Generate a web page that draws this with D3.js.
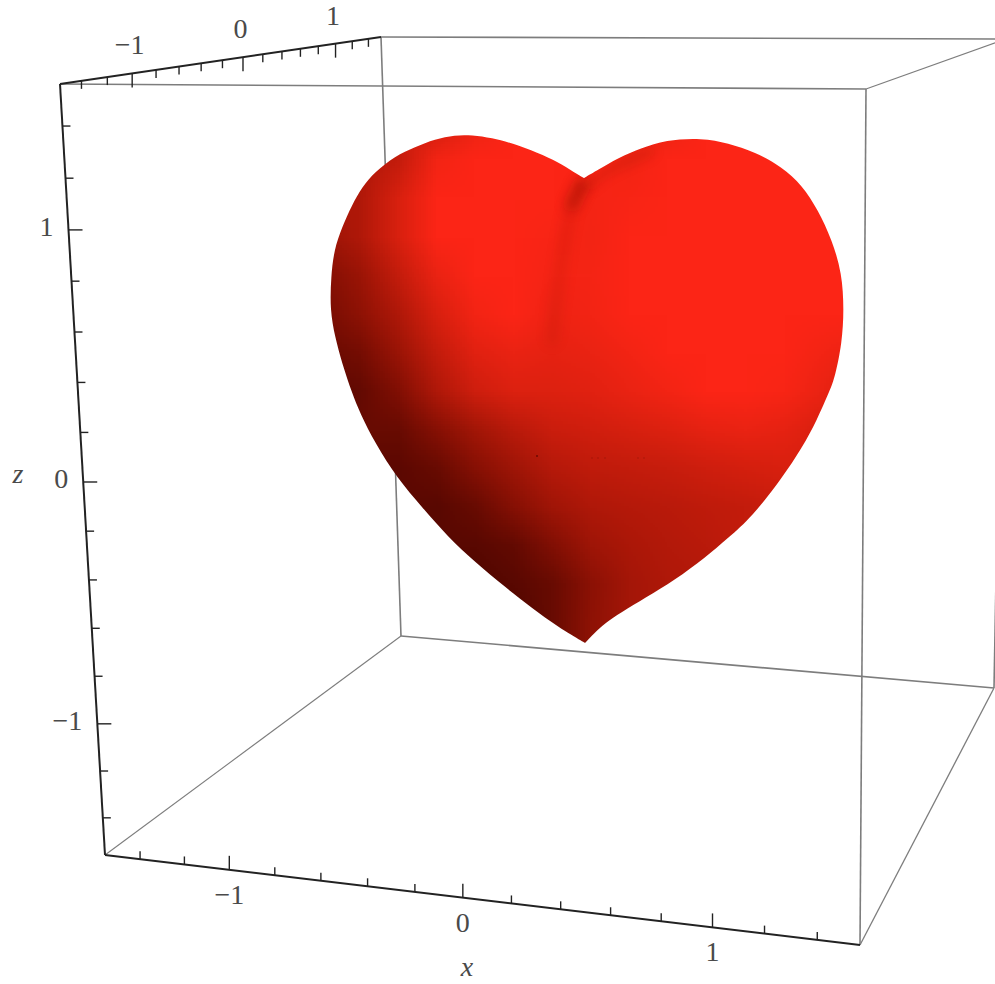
<!DOCTYPE html>
<html>
<head>
<meta charset="utf-8">
<script src="https://cdn.jsdelivr.net/npm/d3@7"></script>
<style>
  html, body { margin: 0; padding: 0; background: #fff; overflow: hidden; }
  text { font-family: "Liberation Serif", serif; fill: #4a4a4a; font-size: 28px; }
</style>
</head>
<body>
<div id="chart"></div>
<script>
// tick values on the three box axes
const xTicks = [-1.4, -1.2, -1, -0.8, -0.6, -0.4, -0.2, 0, 0.2, 0.4, 0.6, 0.8, 1, 1.2, 1.4];
const yTicks = [-1.4, -1.2, -1, -0.8, -0.6, -0.4, -0.2, 0, 0.2, 0.4, 0.6, 0.8, 1, 1.2, 1.4];
const zTicks = [-1.4, -1.2, -1, -0.8, -0.6, -0.4, -0.2, 0, 0.2, 0.4, 0.6, 0.8, 1, 1.2, 1.4];
const xLabels = [-1, 0, 1];
const yLabels = [-1, 0, 1];
const zLabels = [-1, 0, 1];

// heart silhouette (0-540 units across the plot region)
// cleft and tip are repeated so the spline keeps them sharp
const heartU = [264, 264, 264, 255, 238, 218, 192, 172, 152, 135, 115, 95, 75, 55, 42, 32, 22, 14, 11, 10, 15, 22, 32, 40, 55, 77, 102, 128, 155, 185, 212, 238, 265, 265, 265, 282, 302, 325, 355, 385, 408, 432, 462, 482, 497, 510, 515, 522, 524, 522, 512, 498, 482, 462, 435, 408, 382, 345, 322, 298, 278, 264, 264, 264];
const heartV = [58, 58, 58, 53, 42, 33, 23, 18, 15, 15, 19, 27, 36, 52, 67, 85, 107, 130, 157, 190, 217, 243, 273, 293, 323, 358, 387, 417, 442, 467, 488, 507, 523, 523, 523, 505, 492, 478, 460, 438, 418, 397, 358, 328, 300, 270, 257, 223, 190, 153, 120, 90, 65, 47, 32, 23, 18, 20, 28, 38, 50, 58, 58, 58];

// crease below the cleft and the shaded rim of the right lobe
const creaseU = [262, 252, 245, 238, 232];
const creaseV = [64, 85, 120, 170, 220];
const rimU = [268, 285, 305, 330];
const rimV = [66, 52, 42, 32];

// small specks on the surface
const speckU = [217, 272, 278, 285, 318, 324];
const speckV = [336, 338, 338, 338, 338, 338];

// brightness of the surface on a coarse grid, 0 = near black, 10 = full red
const shadeRows = [
  [ 8, 8, 7.5, 7.5, 9, 10, 10, 10, 9, 9, 10, 10, 10, 10, 10],
  [ 6, 6, 7, 9.5, 10, 10, 10, 10, 9.5, 10, 10, 10, 10, 10, 10],
  [ 6, 6, 8, 10, 10, 10, 10, 9.6, 9.8, 10, 10, 10, 10, 10, 10],
  [ 5, 6, 8, 10, 10, 10, 9.8, 9.5, 10, 10, 10, 10, 10, 10, 10],
  [ 4, 5, 7, 9, 10, 10, 9.6, 9.6, 10, 10, 10, 10, 10, 10, 10],
  [ 3.5, 4.5, 6, 8, 9.5, 10, 9.3, 9.5, 10, 10, 10, 10, 10, 10, 10],
  [ 3, 3.5, 5, 7, 8.5, 9, 8.8, 9, 9.5, 10, 10, 10, 10, 9.5, 9],
  [ 2.5, 2.8, 4, 6, 7.5, 8.2, 8.3, 8.5, 9, 9.5, 10, 10, 9.8, 9, 8],
  [ 2.5, 3, 3, 4.2, 5.4, 6.5, 7.3, 7.6, 7.9, 8.3, 8.8, 9, 8.8, 8, 8],
  [ 2.5, 2.5, 2.5, 3, 4.2, 5.2, 6.3, 6.8, 7, 7.2, 7.5, 7.8, 8, 8, 8],
  [ 2.5, 2.5, 2.5, 2.4, 3, 4.2, 5.3, 6, 6.3, 6.5, 6.8, 7, 7.3, 7.5, 7.5],
  [ 2.5, 2.5, 2.5, 2.4, 2.4, 2.8, 4, 5.2, 5.8, 6.2, 6.5, 7, 7, 7, 7],
  [ 2, 2, 2, 2, 2, 2.4, 3, 4.4, 5.5, 6, 6.2, 6.5, 6.5, 6.5, 6.5],
  [ 2, 2, 2, 2, 2, 2, 3, 4.5, 5.5, 6, 6, 6, 6, 6, 6],
  [ 2, 2, 2, 2, 2, 2, 3, 4.5, 5.5, 6, 6, 6, 6, 6, 6]
];

const svgWidth = 995;
const svgHeight = 984;

let svg = d3.select("#chart")
            .append("svg")
            .attr("width", svgWidth)
            .attr("height", svgHeight)
            .style("display", "block");

// box corners on the page: t = top, b = bottom, f/k = front/back, l/r = left/right
const corner = {
  tfl: [60, 84], tkl: [381, 37], tkr: [1006, 39], tfr: [866, 89],
  bfl: [105, 855], bfr: [860, 945], bkl: [401, 636], bkr: [994, 688]
};

// one axis edge: value -> point along the edge, with foreshortening k
function edgeScale(from, to, k, domain) {
  let u = d3.scaleLinear().domain(domain).range([0, 1]);
  let along = d3.interpolate(from, to);
  return v => along(k * u(v) / (1 + (k - 1) * u(v)));
}

let xPos = edgeScale(corner.bfl, corner.bfr, 0.901, [-1.56, 1.56]);
let yPos = edgeScale(corner.tfl, corner.tkl, 1.326, [-1.56, 1.56]);
let zPos = edgeScale(corner.tfl, corner.bfl, 1.067, [1.56, -1.56]);

// back edges of the box
let edges = [
  ["tkl", "tkr", 1.6], ["tfl", "tfr", 1.6], ["tfr", "tkr", 1.3],
  ["tkl", "bkl", 1.6], ["tkr", "bkr", 1.6], ["tfr", "bfr", 1.6],
  ["bkl", "bkr", 1.6], ["bfl", "bkl", 1.1], ["bfr", "bkr", 1.3]
];

let boxLine = d3.line();
svg.append("g").selectAll("path")
   .data(edges)
   .enter()
     .append("path")
     .attr("d", d => boxLine([corner[d[0]], corner[d[1]]]))
     .attr("fill", "none")
     .attr("stroke", "#7d7d7d")
     .attr("stroke-width", d => d[2]);

// heart
let uScale = d3.scaleLinear().domain([0, 540]).range([320, 860]);
let vScale = d3.scaleLinear().domain([0, 540]).range([120, 660]);
let heartLine = d3.line()
                  .x((d, i) => uScale(heartU[i]))
                  .y((d, i) => vScale(heartV[i]))
                  .curve(d3.curveBasis);

let defs = svg.append("defs");
defs.append("clipPath").attr("id", "heartClip")
    .append("path").attr("d", heartLine(heartU));
defs.append("filter").attr("id", "soft")
    .attr("filterUnits", "userSpaceOnUse")
    .attr("x", 320).attr("y", 120).attr("width", 540).attr("height", 540)
    .append("feGaussianBlur").attr("stdDeviation", 6);

let shadeColor = d3.scaleLinear()
                   .domain([0, 2, 5, 8, 10])
                   .range(["#200000", "#4f0600", "#9a1406", "#d8200f", "#fc2516"]);

// paint the brightness grid on a tiny canvas and let the browser smooth it
let nRows = shadeRows.length;
let nCols = shadeRows[0].length;
let canvas = document.createElement("canvas");
canvas.width = nCols;
canvas.height = nRows;
let ctx = canvas.getContext("2d");
shadeRows.forEach((row, r) => row.forEach((v, c) => {
  ctx.fillStyle = shadeColor(v);
  ctx.fillRect(c, r, 1, 1);
}));

let cell = 540 / (nCols - 1);
let heartGroup = svg.append("g").attr("clip-path", "url(#heartClip)");
heartGroup.append("image")
          .attr("href", canvas.toDataURL())
          .attr("x", uScale(-cell / 2))
          .attr("y", vScale(-cell / 2))
          .attr("width", uScale(540 + cell / 2) - uScale(-cell / 2))
          .attr("height", vScale(540 + cell / 2) - vScale(-cell / 2))
          .attr("preserveAspectRatio", "none");

// crease and rim shadows
function softLine(us, vs, width, opacity) {
  let line = d3.line()
               .x((d, i) => uScale(us[i]))
               .y((d, i) => vScale(vs[i]))
               .curve(d3.curveCatmullRom);
  heartGroup.append("path")
            .attr("d", line(us))
            .attr("fill", "none")
            .attr("stroke", "#9a1406")
            .attr("stroke-width", width)
            .attr("stroke-linecap", "round")
            .attr("opacity", opacity)
            .attr("filter", "url(#soft)");
}
softLine(creaseU, creaseV, 12, 0.16);
softLine(creaseU.slice(0, 2), creaseV.slice(0, 2), 12, 0.5);
softLine(rimU, rimV, 8, 0.3);

heartGroup.append("g").selectAll("circle")
          .data(speckU)
          .enter()
            .append("circle")
            .attr("cx", (d, i) => uScale(speckU[i]))
            .attr("cy", (d, i) => vScale(speckV[i]))
            .attr("r", (d, i) => (i == 0 ? 1 : 0.7))
            .attr("fill", "#5a0800")
            .attr("opacity", (d, i) => (i == 0 ? 0.8 : 0.35));

// axes
function drawAxis(ticks, pos, dir) {
  let g = svg.append("g");
  g.selectAll("line")
   .data(ticks)
   .enter()
     .append("line")
     .attr("x1", d => pos(d)[0])
     .attr("y1", d => pos(d)[1])
     .attr("x2", d => pos(d)[0] + dir[0] * (Number.isInteger(d) ? 14 : 8))
     .attr("y2", d => pos(d)[1] + dir[1] * (Number.isInteger(d) ? 14 : 8))
     .attr("stroke", "#222")
     .attr("stroke-width", 1.4);
}

svg.append("g").selectAll("path")
   .data([["bfl", "bfr"], ["tfl", "tkl"], ["tfl", "bfl"]])
   .enter()
     .append("path")
     .attr("d", d => boxLine([corner[d[0]], corner[d[1]]]))
     .attr("fill", "none")
     .attr("stroke", "#222")
     .attr("stroke-width", 2);

drawAxis(xTicks, xPos, [0, -1]);
drawAxis(yTicks, yPos, [0, 1]);
drawAxis(zTicks, zPos, [1, 0]);

// tick labels
let fmt = d => (d < 0 ? "\u2212" + Math.abs(d) : String(d));

function drawLabels(values, pos, dx, dy, anchor) {
  svg.append("g").selectAll("text")
     .data(values)
     .enter()
       .append("text")
       .attr("x", d => pos(d)[0] + dx)
       .attr("y", d => pos(d)[1] + dy)
       .attr("text-anchor", anchor)
       .text(fmt);
}

drawLabels(xLabels, xPos, 0, 34, "middle");
drawLabels(yLabels, yPos, -2.5, -19, "middle");
drawLabels(zLabels, zPos, -15, 6, "end");

svg.append("text").attr("x", 467).attr("y", 976)
   .attr("text-anchor", "middle").style("font-style", "italic").text("x");
svg.append("text").attr("x", 18).attr("y", 483)
   .attr("text-anchor", "middle").style("font-style", "italic").text("z");
</script>
</body>
</html>
